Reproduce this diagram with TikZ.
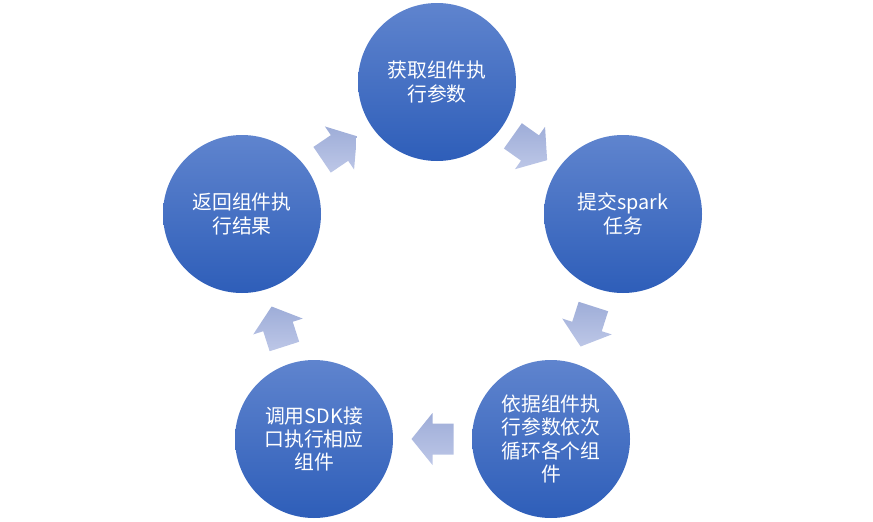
\documentclass[tikz,border=0pt]{standalone}
\usepackage{fontspec}
\setmainfont{Noto Sans CJK SC}

\definecolor{stageTop}{HTML}{5F84CE}
\definecolor{stageBottom}{HTML}{2E5EB9}
\definecolor{arrowLight}{HTML}{BDC7E7}
\definecolor{arrowDark}{HTML}{9EADD8}

\begin{document}
\begin{tikzpicture}[x = 1pt, y = -1pt,
    stage/.style = {circle, minimum size = 158pt, inner sep = 0pt, top color = stageTop, bottom color = stageBottom, text = white, align = center, font = \fontsize{19.8}{23.3}\selectfont},
    flow arrow/.pic = {\path[top color = arrowDark, bottom color = arrowLight] (-21,-15.5) -- (0,-15.5) -- (0,-26) -- (21,0) -- (0,26) -- (0,15.5) -- (-21,15.5) -- cycle;}]
    \useasboundingbox (0,0) rectangle (873,522);
    \node[stage] (fetch) at (437,82) {获取组件执\\行参数};
    \node[stage] (submit) at (623,214) {提交spark\\任务};
    \node[stage] (loop) at (551,439) {依据组件执\\行参数依次\\循环各个组\\件};
    \node[stage] (call) at (314,439) {调用SDK接\\口执行相应\\组件};
    \node[stage] (result) at (242,214) {返回组件执\\行结果};
    \path[sloped, allow upside down]
    (fetch) -- pic{flow arrow} (submit)
    (submit) -- pic{flow arrow} (loop)
    (loop) -- pic{flow arrow} (call)
    (call) -- pic{flow arrow} (result)
    (result) -- pic{flow arrow} (fetch);
\end{tikzpicture}
\end{document}
